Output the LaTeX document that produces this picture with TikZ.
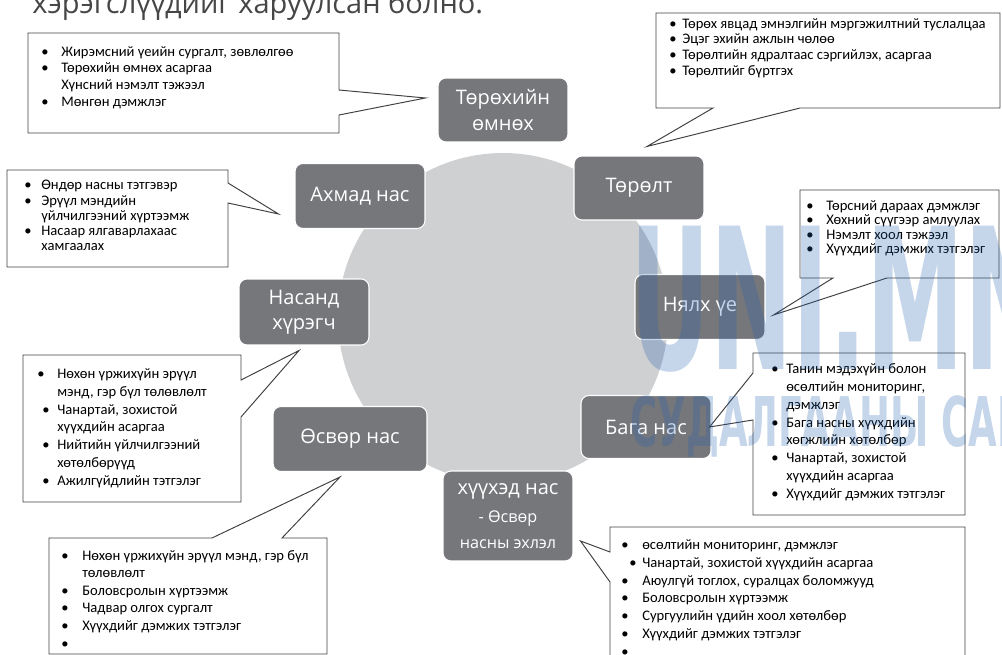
\documentclass[tikz,border=0pt]{standalone}
\usepackage{fontspec}
\usepackage{graphicx}
\usepackage{xcolor}
\setmainfont{Carlito}
\newfontfamily\stagefont{Open Sans}
\newfontfamily\markfont{DejaVu Sans}
\usetikzlibrary{calc}

\definecolor{stagegray}{RGB}{118,119,123}
\definecolor{ringgray}{RGB}{207,208,210}
\definecolor{linegray}{RGB}{64,64,64}
\definecolor{capgray}{RGB}{70,70,70}
\definecolor{markblue}{RGB}{31,95,175}

\newcommand{\bul}[1][0.4cm]{\makebox[#1][l]{\textbullet}}
\newcommand{\nob}[1][0.4cm]{\hspace*{#1}}
\newcommand{\smallstage}{\fontsize{9.2}{12}\selectfont}

\begin{document}
\begin{tikzpicture}[
  x=0.02cm, y=-0.02cm,
  stage/.style={rectangle, rounded corners=0.16cm, fill=stagegray, draw=white,
                line width=0.6pt, text=white, align=center, inner sep=2pt,
                font=\stagefont\fontsize{11.4}{14.5}\selectfont,
                minimum width=2.6cm, minimum height=1.3cm},
  note/.style={font=\fontsize{8.3}{#1}\selectfont, align=left,
               inner sep=0pt, anchor=north west},
  bubble/.style={draw=linegray, line width=0.55pt, line join=miter},
  wmark/.style={anchor=base west, inner sep=0pt, text=markblue,
                text opacity=0.26}
]
\useasboundingbox (0,0) rectangle (1002,655);

% cut-off caption line at the top
\node[anchor=base west, inner sep=0pt, text=capgray,
      font=\stagefont\fontsize{16.5}{18}\selectfont] (cap) at (32,14)
      {хэрэгслүүдийг харуулсан болно.};

% ring and life stages
\node[circle, fill=ringgray, minimum size=6.6cm, inner sep=0pt] (ring) at (503,318) {};

\node[stage, minimum height=1.28cm] (pre)    at (503,110) {Төрөхийн\\өмнөх};
\node[stage, minimum height=1.28cm] (birth)  at (639,188) {Төрөлт};
\node[stage]                        (infant) at (700,307) {Нялх үе};
\node[stage, minimum height=1.26cm] (early)  at (646,427) {Бага нас};
\node[stage, minimum height=1.8cm]  (child)  at (508,516)
     {хүүхэд нас\\[1.5pt]\smallstage - Өсвөр\\\smallstage насны эхлэл};
\node[stage, minimum width=3.08cm]  (teen)   at (350,439) {Өсвөр нас};
\node[stage, minimum height=1.32cm] (adult)  at (304,312) {Насанд\\хүрэгч};
\node[stage]                        (elder)  at (360,196) {Ахмад нас};

% callouts
\draw[bubble] (28,33) -- (339,33) -- (339,90) -- ($(pre.west)+(-12,-12)$)
  -- (339,115) -- (339,133) -- (28,133) -- cycle;
\node[note=9.5pt] (nPre) at (41,46) {%
  \bul Жирэмсний үеийн сургалт, зөвлөлгөө\\
  \bul Төрөхийн өмнөх асаргаа\\
  \nob Хүнсний нэмэлт тэжээл\\
  \bul Мөнгөн дэмжлэг};

\draw[bubble] (656,13) -- (1000,13) -- (1000,108) -- (800,108)
  -- ($(birth.north)+(8,-9)$) -- (713,108) -- (656,108) -- cycle;
\node[note=8.9pt] (nBirth) at (669,18) {%
  \bul[0.26cm]Төрөх явцад эмнэлгийн мэргэжилтний туслалцаа\\
  \bul[0.26cm]Эцэг эхийн ажлын чөлөө\\
  \bul[0.26cm]Төрөлтийн ядралтаас сэргийлэх, асаргаа\\
  \bul[0.26cm]Төрөлтийг бүртгэх};

\draw[bubble] (800,190) -- (999,190) -- (999,278) -- (887,278)
  -- ($(infant.east)+(8,8)$) -- (833,278) -- (800,278) -- cycle;
\node[note=8.2pt] (nInfant) at (806,200) {%
  \bul Төрсний дараах дэмжлэг\\
  \bul Хөхний сүүгээр амлуулах\\
  \bul Нэмэлт хоол тэжээл\\
  \bul Хүүхдийг дэмжих тэтгэлэг};

\draw[bubble] (7,170) -- (228,170) -- (228,183) -- ($(elder.west)+(-16,18)$)
  -- (228,203) -- (228,267) -- (7,267) -- cycle;
\node[note=8.7pt] (nElder) at (24,180) {%
  \bul[0.34cm]Өндөр насны тэтгэвэр\\
  \bul[0.34cm]Эрүүл мэндийн\\
  \nob[0.34cm]үйлчилгээний хүртээмж\\
  \bul[0.34cm]Насаар ялгаварлахаас\\
  \nob[0.34cm]хамгаалах};

\draw[bubble] (23,355) -- (241,355) -- (241,380) -- ($(adult.south)+(-5,5)$)
  -- (241,417) -- (241,502) -- (23,502) -- cycle;
\node[note=10.2pt] (nAdult) at (37,368) {%
  \bul Нөхөн үржихүйн эрүүл\\
  \nob мэнд, гэр бүл төлөвлөлт\\
  \nob[0.1cm]\bul[0.3cm]Чанартай, зохистой\\
  \nob хүүхдийн асаргаа\\
  \nob[0.1cm]\bul[0.3cm]Нийтийн үйлчилгээний\\
  \nob хөтөлбөрүүд\\
  \nob[0.1cm]\bul[0.3cm]Ажилгүйдлийн тэтгэлэг};

\draw[bubble] (753,353) -- (965,353) -- (965,515) -- (753,515) -- (753,420)
  -- ($(early.east)+(-2,0)$) -- (753,373) -- cycle;
\node[note=10.2pt] (nEarly) at (771,363) {%
  \bul[0.3cm]Танин мэдэхүйн болон\\
  \nob[0.3cm]өсөлтийн мониторинг,\\
  \nob[0.3cm]дэмжлэг\\
  \bul[0.3cm]Бага насны хүүхдийн\\
  \nob[0.3cm]хөгжлийн хөтөлбөр\\
  \bul[0.3cm]Чанартай, зохистой\\
  \nob[0.3cm]хүүхдийн асаргаа\\
  \bul[0.3cm]Хүүхдийг дэмжих тэтгэлэг};

\draw[bubble] (49,538) -- (212,538) -- ($(teen.south)+(-10,5)$) -- (282,538)
  -- (327,538) -- (327,654) -- (49,654) -- cycle;
\node[note=10pt] (nTeen) at (61,550) {%
  \bul[0.42cm]Нөхөн үржихүйн эрүүл мэнд, гэр бүл\\
  \nob[0.42cm]төлөвлөлт\\
  \bul[0.42cm]Боловсролын хүртээмж\\
  \bul[0.42cm]Чадвар олгох сургалт\\
  \bul[0.42cm]Хүүхдийг дэмжих тэтгэлэг\\
  \bul[0.42cm]};

\draw[bubble] (610,527) -- (965,527) -- (965,690) -- (610,690) -- (610,582)
  -- ($(child.east)+(7,25)$) -- (610,552) -- cycle;
\node[note=10.2pt] (nChild) at (621,539) {%
  \bul[0.42cm]өсөлтийн мониторинг, дэмжлэг\\
  \nob[0.16cm]\bul[0.26cm]Чанартай, зохистой хүүхдийн асаргаа\\
  \bul[0.42cm]Аюулгүй тоглох, суралцах боломжууд\\
  \bul[0.42cm]Боловсролын хүртээмж\\
  \bul[0.42cm]Сургуулийн үдийн хоол хөтөлбөр\\
  \bul[0.42cm]Хүүхдийг дэмжих тэтгэлэг\\
  \bul[0.42cm]};

% watermark over everything
\node[wmark, font=\markfont\bfseries\fontsize{112}{112}\selectfont] (wmTop) at (630,370)
     {\scalebox{0.5}[1]{UNI.MN}};
\node[wmark, font=\markfont\bfseries\fontsize{39}{39}\selectfont] (wmBot) at (630,447)
     {\scalebox{0.54}[1]{СУДАЛГААНЫ САН}};
\end{tikzpicture}
\end{document}
